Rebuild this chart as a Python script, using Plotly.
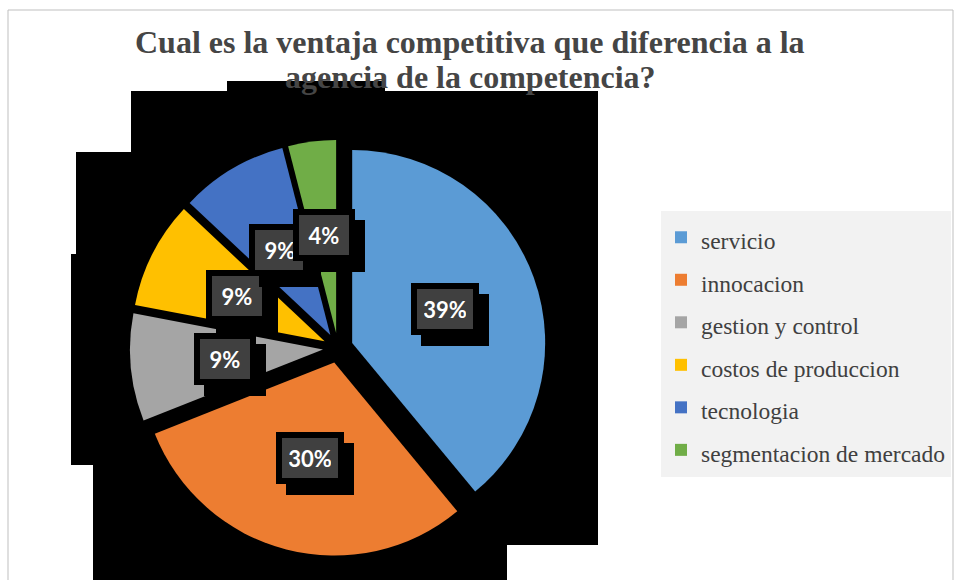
import math
import plotly.graph_objects as go

# ---- data ---------------------------------------------------------------
categories = [
    "servicio",
    "innocacion",
    "gestion y control",
    "costos de produccion",
    "tecnologia",
    "segmentacion de mercado",
]
percentages = [39, 30, 9, 9, 9, 4]
slice_colors = ["#5B9BD5", "#ED7D31", "#A5A5A5", "#FFC000", "#4472C4", "#70AD47"]
title_lines = [
    "Cual es la ventaja competitiva que diferencia a la",
    "agencia de la competencia?",
]

# ---- page geometry (pixels) --------------------------------------------
W, H = 958, 580


def px(x):
    return x / W


def py(y):
    return 1 - y / H


CX, CY, R = 338, 348, 193      # pie centre and radius
PULL = 0.078                   # explosion of every slice
LABEL_R = 0.59                 # label distance from centre, fraction of R
half = R * (1 + PULL)

# dark backdrop behind the pie
backdrop = [
    (227, 81, 385, 91),
    (131, 91, 598, 152),
    (76, 152, 598, 254),
    (71, 254, 598, 465),
    (93, 465, 598, 545),
    (93, 545, 507, 600),
]

fig = go.Figure()

fig.add_trace(go.Pie(
    labels=[f'<span style="font-size:23.5px">{c}</span>' for c in categories],
    values=percentages,
    sort=False,
    direction="clockwise",
    rotation=0,
    pull=[PULL] * len(percentages),
    marker=dict(colors=slice_colors, line=dict(width=0)),
    textinfo="none",
    hoverinfo="label+percent",
    domain=dict(x=[px(CX - half), px(CX + half)],
                y=[py(CY + half), py(CY - half)]),
))

shapes = [
    dict(type="rect", xref="paper", yref="paper",
         x0=px(x0), x1=px(x1), y0=py(y1), y1=py(y0),
         fillcolor="black", line=dict(width=0), layer="below")
    for (x0, y0, x1, y1) in backdrop
]
# chart frame
shapes.append(dict(type="rect", xref="paper", yref="paper",
                   x0=px(8), x1=px(953), y0=py(620), y1=py(10),
                   line=dict(color="#BFBFBF", width=1), layer="below"))

annotations = []
# title, one annotation per line
for i, line in enumerate(title_lines):
    annotations.append(dict(
        text=f"<b>{line}</b>", xref="paper", yref="paper",
        x=px(470), y=py(42 + 35 * i), xanchor="center", yanchor="middle",
        showarrow=False,
        font=dict(family="Liberation Serif", size=32, color="#454545"),
    ))

# percentage labels placed along each slice's mid-angle, each with a
# black drop-shadow box behind it
total = sum(percentages)
cum = 0
for v in percentages:
    mid = (cum + v / 2) / total * 2 * math.pi
    cum += v
    lx = CX + LABEL_R * R * math.sin(mid)
    ly = CY - LABEL_R * R * math.cos(mid)
    txt = f"{round(100 * v / total)}%"
    common = dict(xref="paper", yref="paper",
                  x=px(lx), y=py(ly), xanchor="center", yanchor="middle",
                  showarrow=False, borderpad=7, borderwidth=6,
                  bordercolor="black", width=24 + 6 * len(txt), height=26,
                  font=dict(family="Lato", size=22, color="white"))
    annotations.append(dict(common, text=" ", bgcolor="black",
                            xshift=10, yshift=-11))
    annotations.append(dict(common, text=f"<b>{txt}</b>", bgcolor="#404040"))

fig.update_layout(
    width=W, height=H,
    margin=dict(l=0, r=0, t=0, b=0),
    paper_bgcolor="white", plot_bgcolor="white",
    showlegend=True,
    legend=dict(
        x=px(661), y=py(211), xanchor="left", yanchor="top",
        bgcolor="#F2F2F2", borderwidth=0,
        font=dict(family="Liberation Serif", size=30.4, color="#404040"),
    ),
    shapes=shapes,
    annotations=annotations,
)

fig.write_html("out.html")
